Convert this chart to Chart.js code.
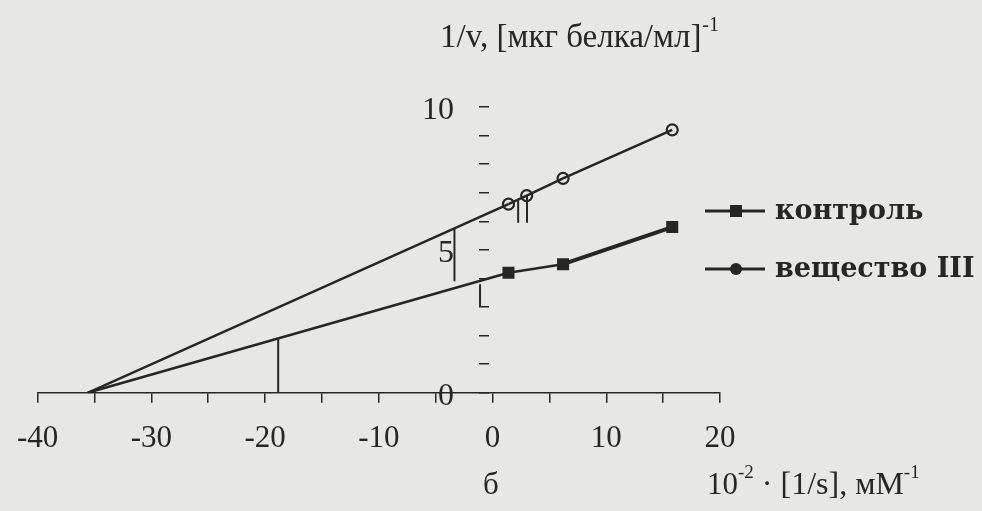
<!DOCTYPE html>
<html>
<head>
<meta charset="utf-8">
<script src="https://cdn.jsdelivr.net/npm/chart.js@4"></script>
<style>
  body { margin: 0; background: #e7e7e5; }
  #wrap { width: 982px; height: 511px; }
</style>
</head>
<body>
<div id="wrap"><canvas id="plot" width="982" height="511"></canvas></div>
<script>
// values
const controlX = [1.4, 6.2, 15.8];
const controlY = [4.2, 4.5, 5.8];
const substX = [1.4, 3.0, 6.2, 15.8];
const substY = [6.6, 6.9, 7.5, 9.2];
const xIntercept = -35.6;

// hand-drawn strokes on the scan (segments split by null)
const markX = [-18.85, -18.85, null, -3.35, -3.35, null, 2.25, 2.25, null, 3.03, 3.03, null, -1.1, -1.1];
const markY = [0, 1.92, null, 3.9, 5.77, null, 5.95, 6.78, null, 5.95, 6.92, null, 3.0, 3.8];

const xTicks = [-40, -30, -20, -10, 0, 10, 20];
const yTicks = [0, 5, 10];

const ink = '#262626';
const serif = 'Liberation Serif';

function pts(xs, ys) {
  return xs.map((x, i) => ({ x: x, y: ys[i] }));
}

const fitControl = [{ x: xIntercept, y: 0 }, { x: controlX[0], y: controlY[0] }];
const fitSubst = [{ x: xIntercept, y: 0 }, { x: substX[0], y: substY[0] }];

const bg = {
  id: 'bg',
  beforeDraw(chart) {
    const ctx = chart.ctx;
    ctx.save();
    ctx.fillStyle = '#e7e7e5';
    ctx.fillRect(0, 0, chart.width, chart.height);
    ctx.restore();
  }
};

const texts = {
  id: 'texts',
  afterDraw(chart) {
    const ctx = chart.ctx;
    ctx.save();
    ctx.fillStyle = ink;
    ctx.textBaseline = 'alphabetic';

    // y title
    ctx.font = '33px "' + serif + '"';
    let t = '1/v, [мкг белка/мл]';
    ctx.fillText(t, 440, 47);
    let w = ctx.measureText(t).width;
    ctx.font = '20px "' + serif + '"';
    ctx.fillText('-1', 440 + w + 1, 31);

    // x title
    ctx.font = '31px "' + serif + '"';
    ctx.fillText('б', 483, 494);
    let x = 707;
    ctx.fillText('10', x, 494);
    x += ctx.measureText('10').width;
    ctx.font = '19px "' + serif + '"';
    ctx.fillText('-2', x, 478);
    x += ctx.measureText('-2').width;
    ctx.font = '32px "' + serif + '"';
    t = ' · [1/s], мМ';
    ctx.fillText(t, x, 494);
    x += ctx.measureText(t).width;
    ctx.font = '19px "' + serif + '"';
    ctx.fillText('-1', x, 478);

    // legend
    const rows = [
      { y: 211, label: 'контроль', style: 'rect' },
      { y: 269, label: 'вещество III', style: 'circle' }
    ];
    rows.forEach(r => {
      ctx.strokeStyle = ink;
      ctx.lineWidth = 3;
      ctx.beginPath();
      ctx.moveTo(705, r.y);
      ctx.lineTo(765, r.y);
      ctx.stroke();
      if (r.style === 'rect') {
        ctx.fillRect(730, r.y - 6, 12, 12);
      } else {
        ctx.beginPath();
        ctx.arc(736, r.y, 6, 0, Math.PI * 2);
        ctx.fill();
      }
      ctx.font = 'bold 27px "DejaVu Serif"';
      ctx.fillText(r.label, 775, r.y + 8);
    });
    ctx.restore();
  }
};

new Chart(document.getElementById('plot'), {
  type: 'scatter',
  data: {
    datasets: [
      {
        label: 'marks',
        data: pts(markX, markY),
        showLine: true,
        spanGaps: false,
        borderColor: ink,
        borderWidth: 2,
        pointRadius: 0
      },
      {
        label: 'fit control',
        data: fitControl,
        showLine: true,
        borderColor: ink,
        borderWidth: 2.5,
        pointRadius: 0
      },
      {
        label: 'fit subst',
        data: fitSubst,
        showLine: true,
        borderColor: ink,
        borderWidth: 2.5,
        pointRadius: 0
      },
      {
        label: 'контроль',
        data: pts(controlX, controlY),
        showLine: true,
        borderColor: ink,
        borderWidth: 2.5,
        segment: {
          borderWidth: ctx => (ctx.p0DataIndex === 1 ? 4 : 2.5)
        },
        pointStyle: 'rect',
        pointRadius: 8.5,
        pointBackgroundColor: ink,
        pointBorderColor: ink,
        pointBorderWidth: 0
      },
      {
        label: 'вещество III',
        data: pts(substX, substY),
        showLine: true,
        borderColor: ink,
        borderWidth: 2.5,
        pointStyle: 'circle',
        pointRadius: 5.5,
        pointBackgroundColor: 'rgba(0,0,0,0)',
        pointBorderColor: ink,
        pointBorderWidth: 2.2
      }
    ]
  },
  options: {
    responsive: false,
    animation: false,
    layout: {
      padding: { left: 33, right: 262, top: 107, bottom: 37 }
    },
    plugins: {
      legend: { display: false },
      tooltip: { enabled: false }
    },
    scales: {
      x: {
        type: 'linear',
        min: -40,
        max: 20,
        ticks: {
          stepSize: 5,
          callback: v => (xTicks.includes(v) ? String(v) : ''),
          font: { family: serif, size: 31 },
          color: ink,
          padding: 17,
          maxRotation: 0,
          autoSkip: false
        },
        grid: {
          drawOnChartArea: false,
          drawTicks: true,
          tickLength: 10,
          color: ink,
          lineWidth: 1.5
        },
        border: { display: true, color: ink, width: 1.5 }
      },
      // tick dashes just left of x = 0
      y: {
        type: 'linear',
        min: 0,
        max: 10,
        position: { x: -0.35 },
        ticks: {
          stepSize: 1,
          display: false,
          autoSkip: false
        },
        grid: {
          drawOnChartArea: false,
          drawTicks: true,
          tickLength: 10,
          color: ink,
          lineWidth: 1.5
        },
        border: { display: false }
      },
      // tick numbers, set further left
      yLabels: {
        type: 'linear',
        axis: 'y',
        min: 0,
        max: 10,
        position: { x: -3.4 },
        ticks: {
          stepSize: 5,
          callback: v => (yTicks.includes(v) ? String(v) : ''),
          font: { family: serif, size: 32 },
          color: ink,
          labelOffset: 4,
          autoSkip: false
        },
        grid: { display: false, drawTicks: false },
        border: { display: false }
      }
    }
  },
  plugins: [bg, texts]
});
</script>
</body>
</html>
